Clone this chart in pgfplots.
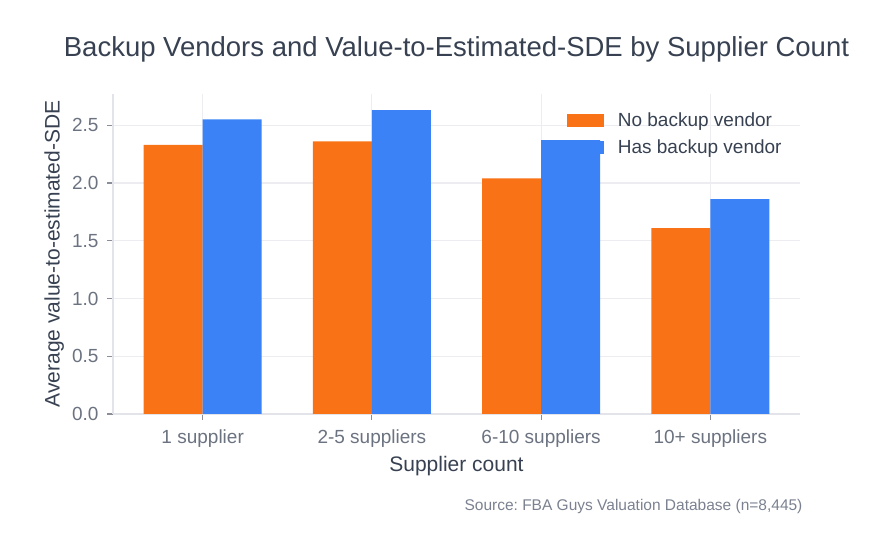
\documentclass[border=0pt]{standalone}
\usepackage{pgfplots}
\pgfplotsset{compat=1.18}
\usepackage{fontspec}
\setmainfont{Liberation Sans}
\frenchspacing

\definecolor{noback}{HTML}{F97316}
\definecolor{hasback}{HTML}{3B82F6}
\definecolor{darktext}{HTML}{374151}
\definecolor{ticktext}{HTML}{6B7280}
\definecolor{sourcetext}{HTML}{7B8190}
\definecolor{gridc}{HTML}{ECECF1}
\definecolor{axisc}{HTML}{E3E4EA}
\definecolor{tickc}{HTML}{8B8E98}

% wide flat swatches for the bar legend
\pgfplotsset{
  /pgfplots/ybar legend/.style={
    /pgfplots/legend image code/.code={
      \fill[##1,draw=none] (0bp,-6.5bp) rectangle (37bp,6.5bp);
    }
  }
}

\pgfplotstableread{
pos none has
0 2.33 2.55
1 2.36 2.63
2 2.04 2.37
3 1.61 1.86
}\vendordata

\begin{document}
\begin{tikzpicture}
\path[use as bounding box] (0bp,0bp) rectangle (893bp,557bp);
\begin{axis}[
  at={(113bp,143bp)}, anchor=south west,
  scale only axis, width=687bp, height=320bp,
  xmin=-0.53, xmax=3.53, ymin=0, ymax=2.77,
  ybar=0pt, bar width=59bp,
  xtick={0,1,2,3},
  xticklabels={1 supplier, 2-5 suppliers, 6-10 suppliers, 10+ suppliers},
  ytick={0,0.5,1,1.5,2,2.5},
  /pgf/number format/assume math mode=true,
  yticklabel style={/pgf/number format/fixed,
    /pgf/number format/fixed zerofill,
    /pgf/number format/precision=1, xshift=-5bp},
  xticklabel style={yshift=-6bp},
  ticklabel style={font=\fontsize{19bp}{23bp}\selectfont, text=ticktext},
  axis x line=bottom, axis y line=left,
  axis line style={draw=axisc, line width=1.2bp, -},
  tick align=outside, major tick length=6bp,
  tick style={draw=tickc, line width=1.2bp},
  xmajorgrids, ymajorgrids,
  grid style={draw=gridc, line width=1.2bp},
  title={Backup Vendors and Value-to-Estimated-SDE by Supplier Count},
  title style={at={(axis description cs:0.5,1.122)}, anchor=center,
    font=\fontsize{27.5bp}{32bp}\selectfont, text=darktext},
  xlabel={Supplier count},
  xlabel style={at={(axis description cs:0.5,-0.162)}, anchor=center,
    font=\fontsize{21bp}{25bp}\selectfont, text=darktext},
  ylabel={Average value-to-estimated-SDE},
  ylabel style={at={(axis description cs:-0.0855,0.5)}, anchor=center,
    font=\fontsize{21bp}{25bp}\selectfont, text=darktext},
  legend style={at={(rel axis cs:0.656,0.953)}, anchor=north west,
    draw=none, fill=none, font=\fontsize{19bp}{23bp}\selectfont,
    text=darktext, row sep=7bp,
    /tikz/every odd column/.append style={column sep=12bp}},
  legend cell align=left,
  clip=false,
]
\addplot[fill=noback, draw=none] table[x=pos, y=none] {\vendordata};
\addlegendentry{No backup vendor}
\addplot[fill=hasback, draw=none] table[x=pos, y=has] {\vendordata};
\addlegendentry{Has backup vendor}
\node[anchor=east, font=\fontsize{15.5bp}{19bp}\selectfont, text=sourcetext]
  at (rel axis cs:1.0087,-0.288) {Source: FBA Guys Valuation Database (n=8,445)};
\end{axis}
\end{tikzpicture}
\end{document}
